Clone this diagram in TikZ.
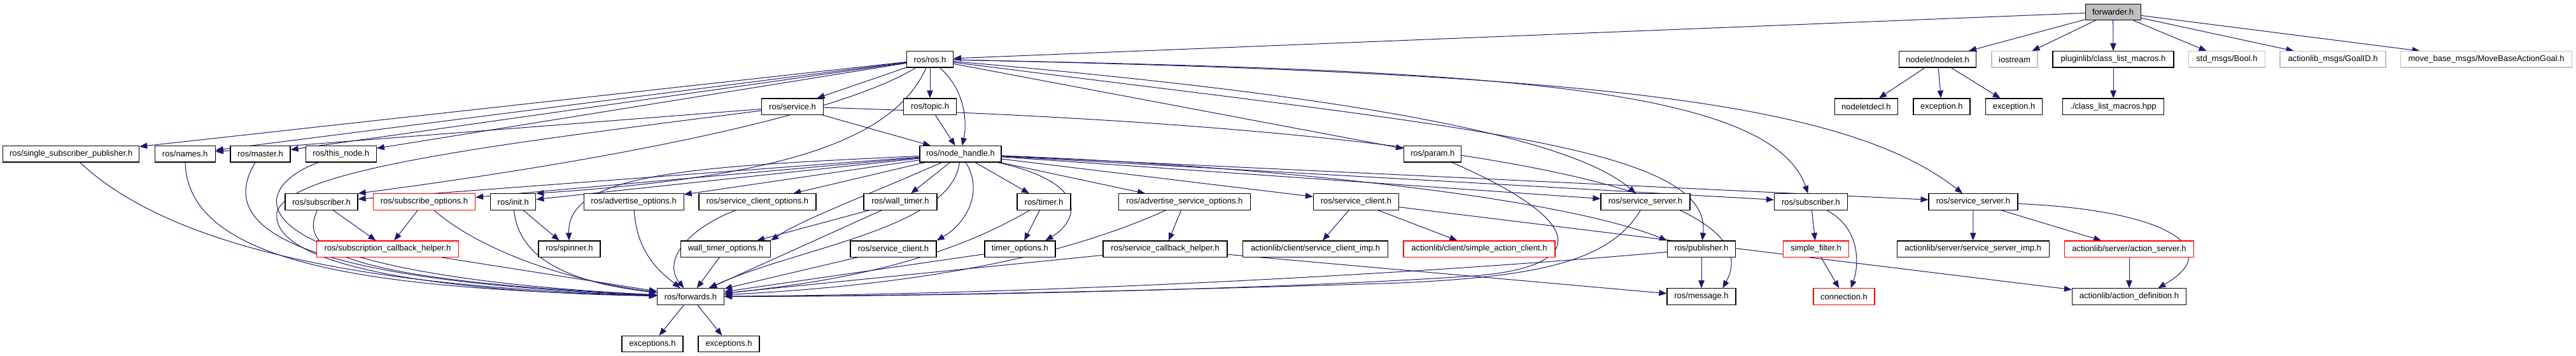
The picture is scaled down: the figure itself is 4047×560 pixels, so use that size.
\documentclass[tikz,border=0pt]{standalone}
\usepackage{fontspec}
\setmainfont{Liberation Sans}
\usetikzlibrary{arrows.meta,backgrounds}
\definecolor{edgeblue}{HTML}{191970}
\definecolor{extgray}{HTML}{BFBFBF}
\definecolor{rootgray}{HTML}{BFBFBF}

\begin{document}
\begin{tikzpicture}[x=0.75pt,y=-0.75pt,
   font=\fontsize{9.75}{11}\selectfont,
   hdr/.style={draw=black,line width=0.9pt,fill=white,minimum height=19pt,inner sep=0pt},
   hdrred/.style={hdr,draw=red},
   hdrext/.style={hdr,draw=extgray},
   hdrroot/.style={hdr,fill=rootgray},
   wd/.style={minimum width=#1*0.75pt},
   dep/.style={draw=edgeblue,line width=0.75pt,-{Triangle[length=9pt,width=7pt]}}]
  \useasboundingbox (0,0) rectangle (4047,560);

  \node[hdrroot,wd=87] (fwd) at (3319.6,18.8) {forwarder.h};

  \node[hdr,wd=73] (ros) at (1461,93.4) {ros/ros.h};
  \node[hdr,wd=121] (nodelet) at (3044,93.4) {nodelet/nodelet.h};
  \node[hdrext,wd=72] (iostream) at (3165,93.4) {iostream};
  \node[hdr,wd=190] (plcm) at (3320,93.4) {pluginlib/class\_list\_macros.h};
  \node[hdrext,wd=120] (boolmsg) at (3498.4,93.4) {std\_msgs/Bool.h};
  \node[hdrext,wd=166] (goalid) at (3665,93.4) {actionlib\_msgs/GoalID.h};
  \node[hdrext,wd=269] (mbagoal) at (3906,93.4) {move\_base\_msgs/MoveBaseActionGoal.h};

  \node[hdr,wd=97] (service) at (1245,167.7) {ros/service.h};
  \node[hdr,wd=83] (topic) at (1461,167.7) {ros/topic.h};
  \node[hdr,wd=99] (ndecl) at (2931.8,167.7) {nodeletdecl.h};
  \node[hdr,wd=89] (exca) at (3050.4,167.7) {exception.h};
  \node[hdr,wd=89] (excb) at (3164,167.7) {exception.h};
  \node[hdr,wd=159] (clmhpp) at (3320,167.7) {./class\_list\_macros.hpp};

  \node[hdr,wd=214] (ssp) at (111.6,242.3) {ros/single\_subscriber\_publisher.h};
  \node[hdr,wd=95] (names) at (290.7,242.3) {ros/names.h};
  \node[hdr,wd=94] (master) at (409,242.3) {ros/master.h};
  \node[hdr,wd=111] (thisnode) at (535.7,242.3) {ros/this\_node.h};
  \node[hdr,wd=128] (nh) at (1509,242.3) {ros/node\_handle.h};
  \node[hdr,wd=90] (param) at (2250.7,242.3) {ros/param.h};

  \node[hdr,wd=114] (subl) at (505,317.5) {ros/subscriber.h};
  \node[hdrred,wd=160] (subopt) at (666.5,317.5) {ros/subscribe\_options.h};
  \node[hdr,wd=71] (init) at (806.3,317.5) {ros/init.h};
  \node[hdr,wd=157] (advopt) at (995.6,317.5) {ros/advertise\_options.h};
  \node[hdr,wd=184] (scopt) at (1190,317.5) {ros/service\_client\_options.h};
  \node[hdr,wd=115] (walltimer) at (1414.5,317.5) {ros/wall\_timer.h};
  \node[hdr,wd=84] (timer) at (1640,317.5) {ros/timer.h};
  \node[hdr,wd=207] (asopt) at (1861,317.5) {ros/advertise\_service\_options.h};
  \node[hdr,wd=134] (sclienta) at (2130.4,317.5) {ros/service\_client.h};
  \node[hdr,wd=140] (ssrvl) at (2585,317.5) {ros/service\_server.h};
  \node[hdr,wd=115] (subr) at (2845,317.5) {ros/subscriber.h};
  \node[hdr,wd=140] (ssrvr) at (3100,317.5) {ros/service\_server.h};

  \node[hdrred,wd=223] (scbh) at (609,391.6) {ros/subscription\_callback\_helper.h};
  \node[hdr,wd=97] (spinner) at (894.5,391.6) {ros/spinner.h};
  \node[hdr,wd=141] (wtopt) at (1140,391.6) {wall\_timer\_options.h};
  \node[hdr,wd=135] (sclientb) at (1403.5,391.6) {ros/service\_client.h};
  \node[hdr,wd=111] (topt) at (1602.4,391.6) {timer\_options.h};
  \node[hdr,wd=195] (srvcbh) at (1830.5,391.6) {ros/service\_callback\_helper.h};
  \node[hdr,wd=228] (scimp) at (2066.5,391.6) {actionlib/client/service\_client\_imp.h};
  \node[hdrred,wd=238] (sac) at (2324,391.6) {actionlib/client/simple\_action\_client.h};
  \node[hdr,wd=107] (pub) at (2673,391.6) {ros/publisher.h};
  \node[hdrred,wd=103] (sfilt) at (2853,391.6) {simple\_filter.h};
  \node[hdr,wd=239] (ssimp) at (3099.6,391.6) {actionlib/server/service\_server\_imp.h};
  \node[hdrred,wd=203] (asrv) at (3345,391.6) {actionlib/server/action\_server.h};

  \node[hdr,wd=105] (fwds) at (1085,466.5) {ros/forwards.h};
  \node[hdr,wd=108] (msg) at (2673,466.5) {ros/message.h};
  \node[hdrred,wd=96] (conn) at (2897,466.5) {connection.h};
  \node[hdr,wd=179] (adef) at (3345,466.5) {actionlib/action\_definition.h};

  \node[hdr,wd=96] (exc1) at (1025,541) {exceptions.h};
  \node[hdr,wd=96] (exc2) at (1145,541) {exceptions.h};

  \begin{pgfonlayer}{background}
  \draw[dep] (fwd) -- (ros);
  \draw[dep] (fwd) -- (nodelet);
  \draw[dep] (fwd) -- (iostream);
  \draw[dep] (fwd) -- (plcm);
  \draw[dep] (fwd) -- (boolmsg);
  \draw[dep] (fwd) -- (goalid);
  \draw[dep] (fwd) -- (mbagoal);
  \draw[dep] (nodelet) -- (ndecl);
  \draw[dep] (nodelet) -- (exca);
  \draw[dep] (nodelet) -- (excb);
  \draw[dep] (plcm) -- (clmhpp);

  \draw[dep] (ros) -- (service);
  \draw[dep] (ros) -- (topic);
  \draw[dep] (ros) .. controls (1515,140) and (1520,190) .. (nh);
  \draw[dep] (ros) -- (ssp);
  \draw[dep] (ros) -- (names);
  \draw[dep] (ros) -- (master);
  \draw[dep] (ros) -- (thisnode);
  \draw[dep] (ros) .. controls (1300,190) and (900,260) .. (subl.north east);
  \draw[dep] (ros) .. controls (1400,230) and (1200,280) .. (init.north east);
  \draw[dep] (ros) -- (param);
  \draw[dep] (ros) .. controls (2000,140) and (2450,200) .. (ssrvl);
  \draw[dep] (ros) .. controls (2300,200) and (2690,230) .. (pub);
  \draw[dep] (ros) .. controls (2300,110) and (2780,130) .. (subr);
  \draw[dep] (ros) .. controls (2500,115) and (2900,160) .. (ssrvr);

  \draw[dep] (topic) -- (nh);
  \draw[dep] (service) -- (nh);
  \draw[dep] (service) -- (names);
  \draw[dep] (service) .. controls (800,225) and (450,265) .. (435,335)
                       .. controls (425,420) and (700,460) .. (fwds);
  \draw[dep] (service) .. controls (2300,200) and (2790,300) .. ([xshift=25pt]msg.north);

  \draw[dep] (nh) -- (subl);
  \draw[dep] (nh) -- (subopt);
  \draw[dep] (nh) -- (init);
  \draw[dep] (nh) -- (advopt);
  \draw[dep] (nh) -- (scopt);
  \draw[dep] (nh) -- (walltimer);
  \draw[dep] (nh) -- (timer);
  \draw[dep] (nh) -- (asopt);
  \draw[dep] (nh) -- (sclienta);
  \draw[dep] (nh) -- (ssrvl);
  \draw[dep] (nh) -- (subr);
  \draw[dep] (nh) -- (ssrvr);
  \draw[dep] (nh) .. controls (2000,262) and (2450,310) .. (pub.north west);
  \draw[dep] (nh) .. controls (1100,262) and (890,270) .. (spinner);
  \draw[dep] (nh) .. controls (1380,300) and (1260,345) .. (wtopt.north east);
  \draw[dep] (nh) .. controls (1545,300) and (1520,350) .. (sclientb.north east);
  \draw[dep] (nh) .. controls (1720,290) and (1690,350) .. ([xshift=30pt]topt.north);
  \draw[dep] (nh) .. controls (1495,360) and (1250,390) .. (fwds);

  \draw[dep] (timer) -- (topt);
  \draw[dep] (walltimer) -- (wtopt);
  \draw[dep] (subl) -- (scbh);
  \draw[dep] (subopt) -- (scbh);
  \draw[dep] (init) -- (spinner);
  \draw[dep] (asopt) -- (srvcbh);
  \draw[dep] (sclienta) -- (scimp);
  \draw[dep] (sclienta) -- (sac);
  \draw[dep] (sclienta) -- (adef);
  \draw[dep] (ssrvr) -- (ssimp);
  \draw[dep] (ssrvr) -- (asrv);
  \draw[dep] (asrv) -- (adef);
  \draw[dep] (ssrvr) .. controls (3400,330) and (3500,390) .. ([xshift=34pt]adef.north);
  \draw[dep] (subr) -- (sfilt);
  \draw[dep] (sfilt) -- (conn);
  \draw[dep] (subr) .. controls (2925,360) and (2920,420) .. ([xshift=8pt]conn.north);
  \draw[dep] (pub) -- (msg);
  \draw[dep] (srvcbh) -- (msg);

  \draw[dep] (ssp) .. controls (300,420) and (700,455) .. (fwds);
  \draw[dep] (names) .. controls (295,420) and (600,455) .. (fwds);
  \draw[dep] (master) .. controls (350,340) and (400,440) .. (fwds);
  \draw[dep] (thisnode) .. controls (380,300) and (360,430) .. (fwds);
  \draw[dep] (subl) .. controls (470,390) and (520,440) .. (fwds);
  \draw[dep] (subopt) .. controls (750,390) and (880,440) .. (fwds);
  \draw[dep] (scbh) -- (fwds);
  \draw[dep] (init) .. controls (815,410) and (900,445) .. (fwds);
  \draw[dep] (advopt) .. controls (1000,400) and (1040,430) .. (fwds);
  \draw[dep] (scopt) .. controls (1080,360) and (1040,410) .. (fwds);
  \draw[dep] (wtopt) -- (fwds);
  \draw[dep] (walltimer) -- (fwds);
  \draw[dep] (sclientb) -- (fwds);
  \draw[dep] (timer) .. controls (1500,400) and (1350,440) .. (fwds);
  \draw[dep] (topt) -- (fwds);
  \draw[dep] (asopt) .. controls (1700,390) and (1500,445) .. (fwds);
  \draw[dep] (srvcbh) -- (fwds);
  \draw[dep] (param) .. controls (2520,360) and (2480,425) .. (2300,435)
                     .. controls (2000,455) and (1500,466) .. (fwds);
  \draw[dep] (ssrvl) .. controls (2530,410) and (2420,435) .. (2200,445)
                     .. controls (1800,458) and (1400,466) .. (fwds);
  \draw[dep] (pub) .. controls (2300,425) and (1700,462) .. (fwds);
  \draw[dep] (fwds) -- (exc1);
  \draw[dep] (fwds) -- (exc2);
  \end{pgfonlayer}
\end{tikzpicture}
\end{document}
